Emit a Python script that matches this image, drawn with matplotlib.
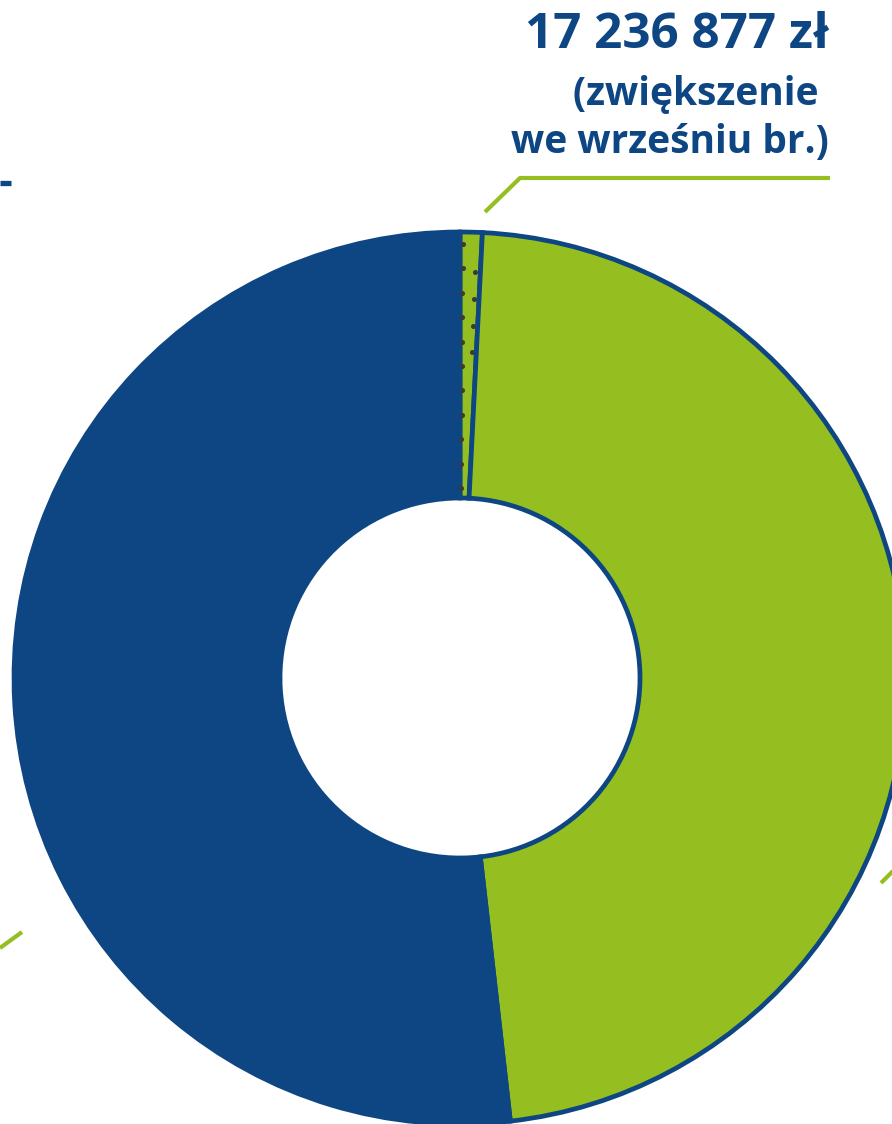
import numpy as np
import matplotlib.pyplot as plt

# pie shares (percent), read clockwise from the top
labels = ['zwiększenie we wrześniu', 'zielony', 'niebieski']
shares = [0.8, 47.4, 51.8]
amount_txt = '17 236 877 zł'
note_lines = ['(zwiększenie ', 'we wrześniu br.)']

blue = '#0d4682'
green = '#95bf21'

W, H = 892, 1124
fig = plt.figure(figsize=(W / 100, H / 100), dpi=100)
ax = fig.add_axes([0, 0, 1, 1])

cx, cy = 460, H - 678
r_out, r_in = 446, 180

wedges, _ = ax.pie(shares, colors=[green, green, blue], startangle=90,
                   counterclock=False, center=(cx, cy), radius=r_out,
                   wedgeprops=dict(width=r_out - r_in, edgecolor=blue, linewidth=3.4))

# dotted line along the small slice
w = wedges[0]
a = np.deg2rad(w.theta2 - 0.35)
rr = np.linspace(r_in + 10, r_out - 12, 11)
ax.plot(cx + rr * np.cos(a), cy + rr * np.sin(a), ls='none', marker='o',
        ms=2.6, color='#3a3a3a')
a2 = np.deg2rad(w.theta1 + 0.7)
rr2 = np.linspace(r_out - 120, r_out - 40, 4)
ax.plot(cx + rr2 * np.cos(a2), cy + rr2 * np.sin(a2), ls='none', marker='o',
        ms=2.6, color='#3a3a3a')

ax.set_xlim(0, W)
ax.set_ylim(0, H)
ax.set_aspect('auto')
ax.axis('off')

# leader lines
ax.plot([485, 520, 830], [H - 212, H - 178, H - 178], color=green, lw=3, solid_capstyle='butt')
ax.plot([0, 11], [H - 183, H - 183], color=blue, lw=3.8, solid_capstyle='butt')
ax.plot([0, 22], [H - 948, H - 932], color=green, lw=3, solid_capstyle='butt')
ax.plot([881, 895], [H - 883, H - 869], color=green, lw=3, solid_capstyle='butt')

font = ['Open Sans', 'DejaVu Sans']
ax.text(829, H - 35, amount_txt, ha='right', va='center', fontsize=35.5,
        fontweight='bold', color=blue, family=font)
ax.text(829, H - 94, note_lines[0], ha='right', va='center', fontsize=28,
        fontweight='bold', color=blue, family=font)
ax.text(829, H - 142, note_lines[1], ha='right', va='center', fontsize=28,
        fontweight='bold', color=blue, family=font)

fig.savefig('out.png', dpi=100)
